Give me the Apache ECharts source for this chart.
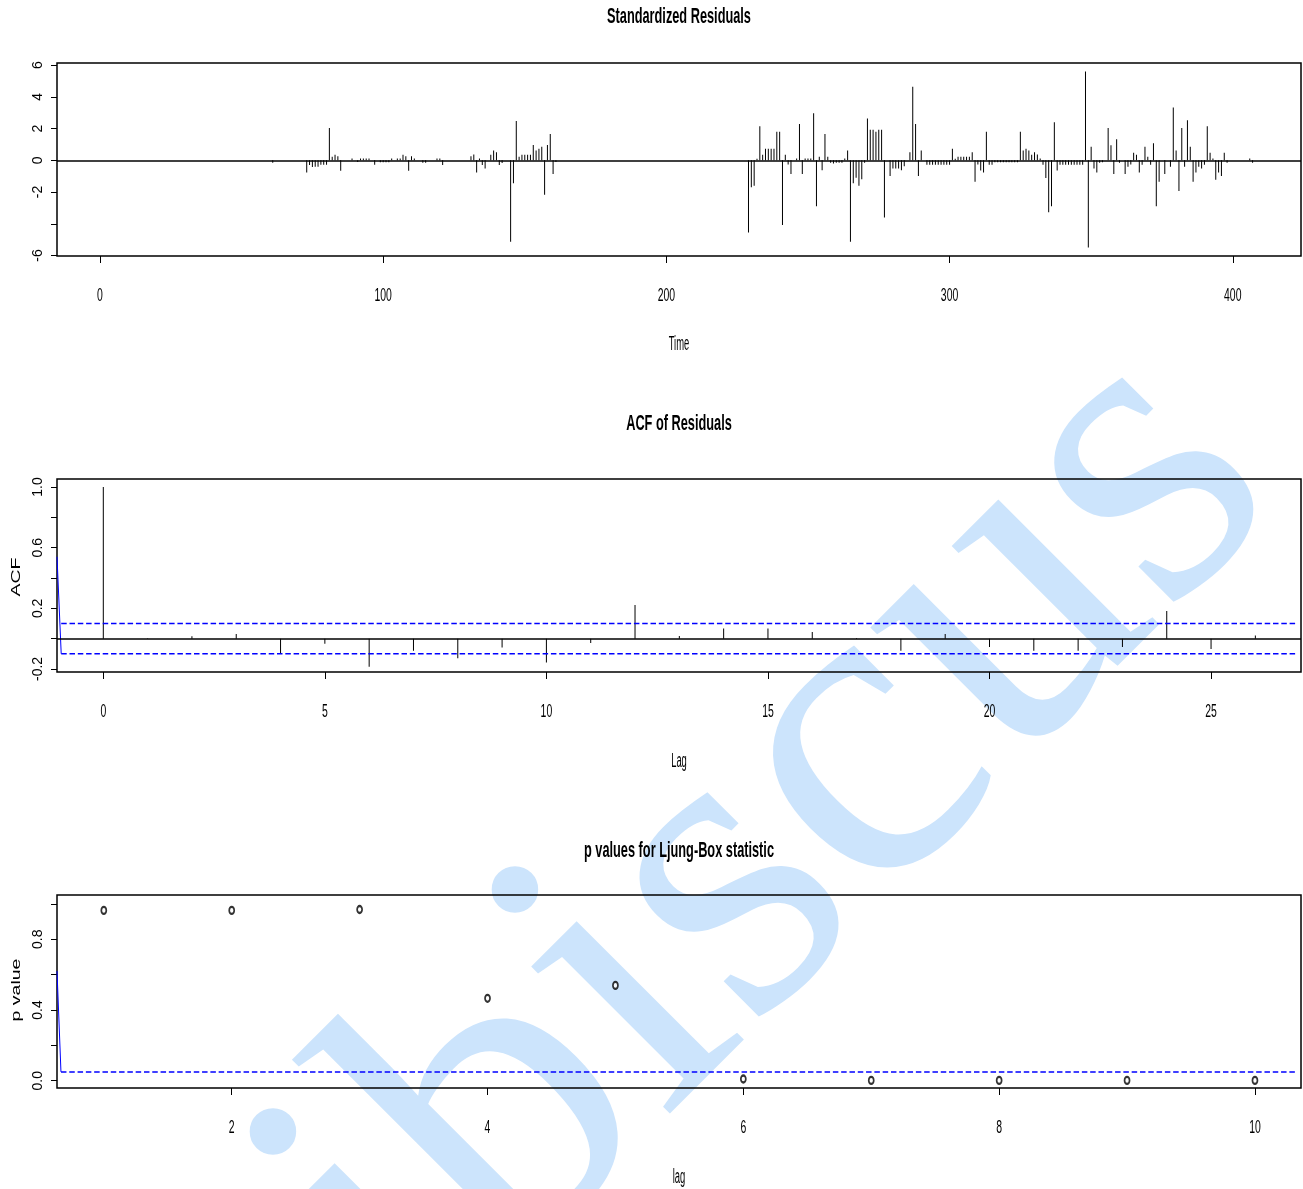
<!DOCTYPE html>
<html>
<head>
<meta charset="utf-8">
<title>tsdiag</title>
<script src="https://cdn.jsdelivr.net/npm/echarts@6/dist/echarts.min.js"></script>
<style>
html, body { margin: 0; padding: 0; background: #fff; }
#chart { width: 1303px; height: 1189px; }
</style>
</head>
<body>
<div id="chart"></div>
<script>
// standardized residuals: time index and value (all other indexes are ~0)
const residTime = [
    61, 73, 74, 75, 76, 77, 78, 79, 80, 81, 82, 83, 84, 85, 89, 91, 92, 93, 94, 95,
    97, 99, 100, 101, 102, 103, 105, 106, 107, 108, 109, 110, 111, 114, 115, 119, 120, 121,
    131, 132, 133, 134, 135, 136, 138, 139, 140, 141, 142, 145, 146, 147, 148, 149, 150, 151,
    152, 153, 154, 155, 156, 157, 158, 159, 160, 161,
    229, 230, 231, 232, 233, 234, 235, 236, 237, 238, 239, 240, 241, 242, 243, 244, 246, 247,
    248, 249, 250, 251, 252, 253, 254, 255, 256, 257, 258, 259, 260, 261, 262, 263, 264, 265,
    266, 267, 268, 269, 270, 271, 272, 273, 274, 275, 276, 277, 279, 280, 281, 282, 283, 284,
    286, 287, 288, 289, 290, 292, 293, 294, 295, 296, 297, 298, 299, 300, 301, 302, 303, 304,
    305, 306, 307, 308, 309, 310, 311, 312, 313, 314, 315, 316, 317, 318, 319, 320, 321, 322,
    323, 324, 325, 326, 327, 328, 329, 330, 331, 332, 333, 334, 335, 336, 337, 338, 339, 340,
    341, 342, 343, 344, 345, 346, 347, 348, 349, 350, 351, 352, 353, 354, 356, 357, 358, 359,
    360, 362, 363, 364, 365, 366, 367, 368, 369, 370, 371, 372, 373, 374, 376, 378, 379, 380,
    381, 382, 383, 384, 385, 386, 387, 388, 389, 390, 391, 392, 393, 394, 395, 396, 397, 398,
    406, 407
]
const residValue = [
    -0.15, -0.77, -0.3, -0.42, -0.4, -0.4, -0.28, -0.28, -0.28, 2.03, 0.22, 0.35, 0.25, -0.66, 0.12, -0.1, 0.12, 0.12, 0.12, 0.12,
    -0.28, -0.12, -0.12, -0.12, -0.12, 0.12, 0.12, 0.12, 0.35, 0.25, -0.66, 0.25, 0.12, -0.15, -0.15, 0.12, 0.12, -0.3,
    0.25, 0.37, -0.77, 0.12, -0.3, -0.52, 0.35, 0.62, 0.5, -0.3, -0.17, -5.13, -1.45, 2.48, 0.23, 0.35, 0.35, 0.35,
    0.35, 0.97, 0.62, 0.72, 0.85, -2.17, 0.97, 1.66, -0.87, -0.1,
    -4.55, -1.7, -1.6, 0.1, 2.15, 0.35, 0.72, 0.72, 0.72, 0.72, 1.8, 1.8, -4.08, 0.35, -0.27, -0.87, 0.12, 2.28,
    -0.87, 0.12, 0.12, 0.12, 2.96, -2.9, 0.23, -0.62, 1.66, 0.23, -0.15, -0.2, -0.15, -0.15, -0.15, 0.12, 0.62, -5.13,
    -1.45, -1.1, -1.6, -1.2, -0.15, 2.63, 1.93, 1.93, 1.8, 1.93, 1.93, -3.6, -0.99, -0.52, -0.52, -0.52, -0.62, -0.37,
    0.5, 4.64, 2.28, -0.99, 0.62, -0.28, -0.28, -0.28, -0.28, -0.28, -0.28, -0.28, -0.28, -0.28, 0.72, 0.1, 0.23, 0.23,
    0.23, 0.23, 0.23, 0.5, -1.35, -0.27, -0.64, -0.77, 1.8, -0.28, -0.28, -0.12, -0.12, -0.12, -0.12, -0.12, -0.12, -0.12,
    -0.12, -0.12, 1.8, 0.62, 0.72, 0.62, 0.35, 0.5, 0.37, 0.12, -0.28, -1.12, -3.27, -2.9, 2.4, -0.64, -0.28, -0.28,
    -0.28, -0.28, -0.28, -0.28, -0.28, -0.28, -0.28, 5.59, -5.5, 0.85, -0.52, -0.77, -0.15, -0.12, 2.03, 0.95, -0.87, 1.33,
    -0.15, -0.87, -0.4, -0.27, 0.48, 0.35, -0.77, -0.28, 0.85, 0.23, -0.28, 1.08, -2.9, -1.35, -0.87, -0.4, 3.33, 0.62,
    -1.93, 2.03, -0.4, 2.52, 0.85, -1.35, -0.77, -0.4, -0.52, -0.28, 2.15, 0.48, 0.12, -1.22, -0.77, -0.99, 0.48, -0.15,
    0.12, -0.15
]

// ACF of residuals, lag 0..26
const acfLag = [0, 1, 2, 3, 4, 5, 6, 7, 8, 9, 10, 11, 12, 13, 14, 15, 16, 17, 18, 19, 20, 21, 22, 23, 24, 25, 26]
const acfValue = [1.0, 0.003, 0.015, 0.03, -0.095, -0.033, -0.185, -0.08, -0.13, -0.058, -0.158, -0.029, 0.222, 0.018,
    0.067, 0.067, 0.044, 0.005, -0.08, 0.031, -0.055, -0.08, -0.08, -0.055, 0.182, -0.069, 0.02]
const acfBound = 0.0999

// Ljung-Box p values, lag 1..10
const pLag = [1, 2, 3, 4, 5, 6, 7, 8, 9, 10]
const pValue = [0.963, 0.963, 0.968, 0.466, 0.539, 0.01, 0.002, 0.002, 0.002, 0.002]
const pBound = 0.05

// tick positions and labels
const residXTicks = [0, 100, 200, 300, 400]
const residYTicks = [-6, -4, -2, 0, 2, 4, 6]
const residYLabels = [-6, -2, 0, 2, 4, 6]
const acfXTicks = [0, 5, 10, 15, 20, 25]
const acfYTicks = [-0.2, 0, 0.2, 0.4, 0.6, 0.8, 1.0]
const acfYLabels = [-0.2, 0.2, 0.6, 1.0]
const pXTicks = [2, 4, 6, 8, 10]
const pYTicks = [0, 0.2, 0.4, 0.6, 0.8, 1.0]
const pYLabels = [0, 0.4, 0.8]

const chart = echarts.init(document.getElementById('chart'))
const sans = '"Liberation Sans", Arial, sans-serif'
const blue = '#0000ff'

function xAxisOf(gridIndex, min, max, ticks) {
    return {
        gridIndex: gridIndex,
        type: 'value',
        position: 'bottom',
        min: min,
        max: max,
        axisLine: { show: false, onZero: false },
        splitLine: { show: false },
        axisTick: { show: true, length: 7, customValues: ticks, lineStyle: { color: '#000', width: 1 } },
        axisLabel: { show: false }
    }
}

function yAxisOf(gridIndex, min, max, ticks, labels, digits) {
    return {
        gridIndex: gridIndex,
        type: 'value',
        position: 'left',
        min: min,
        max: max,
        axisLine: { show: false, onZero: false },
        splitLine: { show: false },
        axisTick: { show: true, length: 6, customValues: ticks, lineStyle: { color: '#000', width: 1 } },
        axisLabel: {
            show: true,
            customValues: labels,
            rotate: 90,
            margin: 12,
            fontSize: 14,
            fontFamily: sans,
            color: '#000',
            formatter: v => v.toFixed(digits)
        }
    }
}

const gridStyle = { show: true, borderColor: '#000', borderWidth: 1.5, backgroundColor: 'transparent' }
const zeroLine = {
    silent: true,
    symbol: 'none',
    label: { show: false },
    lineStyle: { color: '#000', width: 1.5, type: 'solid' },
    data: [{ yAxis: 0 }]
}
const dashed = { color: blue, width: 1.5, type: [5.5, 2.8] }

chart.setOption({
    backgroundColor: '#fff',
    animation: false,
    grid: [
        Object.assign({ left: 57, top: 63, width: 1244, height: 193 }, gridStyle),
        Object.assign({ left: 57, top: 479, width: 1244, height: 193 }, gridStyle),
        Object.assign({ left: 57, top: 895, width: 1244, height: 193 }, gridStyle)
    ],
    xAxis: [
        xAxisOf(0, -15.18, 424.1, residXTicks),
        xAxisOf(1, -1.045, 27.03, acfXTicks),
        xAxisOf(2, 0.634, 10.36, pXTicks)
    ],
    yAxis: [
        yAxisOf(0, -6.03, 6.13, residYTicks, residYLabels, 0),
        yAxisOf(1, -0.22, 1.053, acfYTicks, acfYLabels, 1),
        yAxisOf(2, -0.041, 1.05, pYTicks, pYLabels, 1)
    ],
    series: [
        {
            name: 'resid',
            type: 'bar',
            xAxisIndex: 0,
            yAxisIndex: 0,
            barWidth: 1,
            itemStyle: { color: '#000' },
            data: residTime.map((t, i) => [t, residValue[i]]),
            markLine: zeroLine
        },
        {
            name: 'acf',
            type: 'bar',
            xAxisIndex: 1,
            yAxisIndex: 1,
            barWidth: 1,
            itemStyle: { color: '#000' },
            data: acfLag.map((l, i) => [l, acfValue[i]]),
            markLine: zeroLine
        },
        {
            name: 'acf upper',
            type: 'line',
            xAxisIndex: 1,
            yAxisIndex: 1,
            showSymbol: false,
            lineStyle: dashed,
            data: [[-0.95, acfBound], [26.94, acfBound]]
        },
        {
            name: 'acf lower',
            type: 'line',
            xAxisIndex: 1,
            yAxisIndex: 1,
            showSymbol: false,
            lineStyle: dashed,
            data: [[-0.95, -acfBound], [26.94, -acfBound]]
        },
        {
            name: 'acf lead',
            type: 'line',
            xAxisIndex: 1,
            yAxisIndex: 1,
            showSymbol: false,
            lineStyle: { color: blue, width: 1 },
            data: [[-1.045, 0.54], [-0.95, -acfBound]]
        },
        {
            name: 'p bound',
            type: 'line',
            xAxisIndex: 2,
            yAxisIndex: 2,
            showSymbol: false,
            lineStyle: dashed,
            data: [[0.665, pBound], [10.33, pBound]]
        },
        {
            name: 'p lead',
            type: 'line',
            xAxisIndex: 2,
            yAxisIndex: 2,
            showSymbol: false,
            lineStyle: { color: blue, width: 1 },
            data: [[0.634, 0.62], [0.665, pBound]]
        },
        {
            name: 'p value',
            type: 'scatter',
            xAxisIndex: 2,
            yAxisIndex: 2,
            symbol: 'emptyCircle',
            symbolSize: [5, 7],
            itemStyle: { color: '#000', borderColor: '#000', borderWidth: 1 },
            data: pLag.map((l, i) => [l, pValue[i]])
        }
    ]
})

// narrow text (titles, x labels) like the R device output
function narrowText(text, x, y, size, bold, scale) {
    return {
        type: 'text',
        x: x,
        y: y,
        scaleX: scale,
        z: 10,
        style: {
            text: text,
            font: (bold ? 'bold ' : '') + size + 'px ' + sans,
            fill: '#000',
            textAlign: 'center',
            textVerticalAlign: 'middle',
            align: 'center',
            verticalAlign: 'middle'
        }
    }
}

function yName(text, x, y) {
    return {
        type: 'text',
        x: x,
        y: y,
        rotation: Math.PI / 2,
        scaleX: 1.5,
        z: 10,
        style: {
            text: text,
            font: '13px ' + sans,
            fill: '#000',
            textAlign: 'center',
            textVerticalAlign: 'middle',
            align: 'center',
            verticalAlign: 'middle'
        }
    }
}

const midX = 679
const graphics = [
    {
        type: 'text',
        x: 694,
        y: 926,
        rotation: Math.PI / 4,
        z: -1,
        silent: true,
        style: {
            text: 'hibiscus',
            font: '440px "Liberation Serif", serif',
            fill: '#cce4fc',
            textAlign: 'center',
            textVerticalAlign: 'middle',
            align: 'center',
            verticalAlign: 'middle'
        }
    },
    narrowText('Standardized Residuals', midX, 17, 22, true, 0.58),
    narrowText('ACF of Residuals', midX, 424, 22, true, 0.58),
    narrowText('p values for Ljung-Box statistic', midX, 851, 22, true, 0.58),
    narrowText('Time', midX, 344, 20, false, 0.47),
    narrowText('Lag', midX, 761, 20, false, 0.47),
    narrowText('lag', midX, 1177, 20, false, 0.47),
    yName('ACF', 16, 577),
    yName('p value', 16, 990)
]

const tickSets = [[residXTicks, 296], [acfXTicks, 712], [pXTicks, 1128]]
tickSets.forEach(([ticks, y], axisIndex) => {
    ticks.forEach(v => {
        const px = chart.convertToPixel({ xAxisIndex: axisIndex }, v)
        graphics.push(narrowText(String(v), px, y, 18, false, 0.58))
    })
})

chart.setOption({ graphic: graphics })
</script>
</body>
</html>
